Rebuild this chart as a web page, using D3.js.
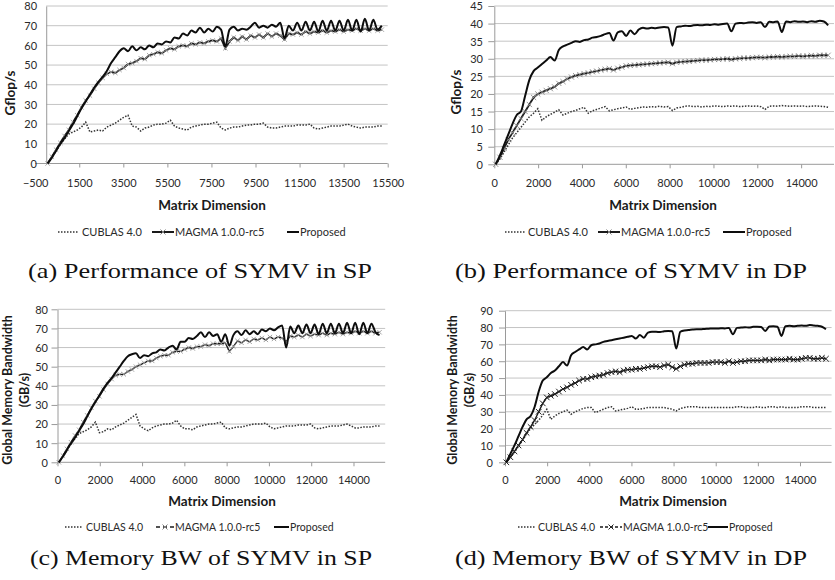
<!DOCTYPE html>
<html><head><meta charset="utf-8">
<script src="https://cdn.jsdelivr.net/npm/d3@7"></script>
<style>body{margin:0;background:#fff}</style>
</head><body>
<svg id="c" width="835" height="580" xmlns="http://www.w3.org/2000/svg"></svg>
<script>
// ---------- data ----------
const xDims = [
64,256,448,640,832,1024,1216,1408,1600,1792,
1984,2176,2368,2560,2752,2944,3136,3328,3520,3712,
3904,4096,4288,4480,4672,4864,5056,5248,5440,5632,
5824,6016,6208,6400,6592,6784,6976,7168,7360,7552,
7744,7936,8128,8320,8512,8704,8896,9088,9280,9472,
9664,9856,10048,10240,10432,10624,10816,11008,11200,11392,
11584,11776,11968,12160,12352,12544,12736,12928,13120,13312,
13504,13696,13888,14080,14272,14464,14656,14848,15040,15232];

const seriesNames = ["CUBLAS 4.0", "MAGMA 1.0.0-rc5", "Proposed"];

// (a) Performance SP (Gflop/s)
const spPerfCublas = [
0,3,6.5,9.5,12.5,15,16,17,18.5,21,
16,16.5,17,16.5,18.5,19.5,20.5,22,23.5,24.5,
19,18.5,16.5,18,18.5,19.5,20,20,20.5,22,
19,18,17.5,17,18.5,19,19.5,20,20,20.5,
21,18,17,18,18.5,18.5,19,19.5,19.5,20,
20,20.5,18.5,18,18,18.5,19,19,19,19.5,
19.5,19.5,20,18,17.5,18,18.5,19,19,19,
19.5,20,19,18.5,18,18.5,18.5,18.5,19,19];
const spPerfMagma = [
0,3.5,7,10.5,14,17,21,24.5,28.5,32,
34.5,38,41,43.5,45.5,46.5,46,47.5,48.5,50.5,
51,52,53.5,53,55,55.5,56.5,56,57.5,58.5,
58,59.5,60,59.5,61,60.5,61.5,61,62,62.5,
62,63.5,58.5,62,64,62.5,64.5,63,65,64,
65.5,64,66,64.5,66,65,63,66,65.5,66.5,
65.5,67,66,67,66.5,67.5,66.5,67.5,67,68,
67,68,67.5,68.5,67.5,68.5,67.5,68.5,67.5,68];
const spPerfProposed = [
0,3,6.5,10,13,16.5,20,24,28,31.5,
35,38.5,41.5,44,47,51,54,57,58.5,57,
59.5,57.5,59,58,60,59,61,60.5,62,61.5,
64,63.5,66,65,67.5,66.5,69,66.5,68.5,67,
69.5,68,59.5,68,69.5,67.5,68.5,68,69.5,71.5,
69,70,69,70.5,69.5,71.5,63.5,70,67.5,71.5,
67.5,72,67.5,72,67,72.5,67.5,72.5,67.5,72.5,
67.5,73,67.5,73,67,73.5,67.5,73,68,70];

// (b) Performance DP (Gflop/s)
const dpPerfCublas = [
0,1.5,3.5,5.5,7.5,9,10.5,12,13.5,14.5,
15.8,12.5,13.5,14.2,14.8,15.5,14,14.5,15,15.3,
15.8,16.2,14.5,15.2,15.6,16,16.4,15.2,15.5,15.8,
16,16.3,15.6,15.9,16.1,16.3,16.2,16.4,16.3,16.5,
16.3,16.4,15.3,16,16.2,16.5,16.6,16.4,16.5,16.3,
16.5,16.4,16.6,16.5,16.4,16.6,16.5,16.6,16.4,16.5,
16.6,16.5,16.6,16.4,15.6,16.5,16.6,16.5,16.7,16.6,
16.5,16.6,16.5,16.6,16.4,16.5,16.6,16.5,16.4,16.2];
const dpPerfMagma = [
0,2,4.5,7,9,11,13,15,17,19,
20,20.5,21,21.5,22,23,23.5,24.3,24.8,25.2,
25.5,25.8,26,26.3,26.5,26.8,27,27.2,26.8,27.3,
27.6,28,28.1,28.2,28.3,28.4,28.5,28.6,28.7,28.8,
28.9,29,28.6,29,29.1,29.2,29.3,29.4,29.5,29.6,
29.6,29.7,29.8,29.8,29.9,30,29.8,30,30.1,30.2,
30.2,30.3,30.4,30.4,30.3,30.5,30.5,30.6,30.5,30.6,
30.7,30.7,30.8,30.7,30.8,30.9,30.8,31,31,31];
const dpPerfProposed = [
0,2.5,5.5,8.5,11.5,14,15,19.5,24,26.5,
27.5,28.5,29.5,30.5,29.5,32.5,33.5,34,34.5,35,
34.8,35.3,35.5,36,36.2,36.5,37,37.3,35.2,37.5,
37.8,36.5,38,37,38.3,38.8,38.6,38.8,38.7,38.9,
39,38.9,33.7,39,39.2,39.4,39.3,39.5,39.6,39.5,
39.7,39.6,39.8,39.7,39.9,40,37.8,40,40.2,40.1,
40.3,40.4,40.2,40.4,39,40.5,40.4,40.6,37.6,40.6,
40.4,40.7,40.5,40.6,40.4,40.7,40.5,40.8,40.6,39.5];

// (c) Memory bandwidth SP (GB/s)
const spBwCublas = [
0,3,6.5,9.5,12.5,15,16,17,18.5,21,
15.5,16,17.5,17,18.5,19.5,20.5,22,23.5,25,
19,17.5,16.5,18,19,19.5,20,20,20.5,22,
19,17.5,17.5,17,18.5,19,19.5,20,20,20.5,
21,18,17.5,18,18.5,18.5,19,19.5,20,20,
20,20.5,18.5,17.5,18,18.5,19,19,19,19.5,
19.5,19.5,20,18,17.5,18,18.5,19,19,19,
19.5,20,19,18,18,18.5,18.5,18.5,19,19];
const spBwMagma = [
0,3.5,7,10.5,14,17,21,24.5,28.5,32,
34.5,38,41,43.5,45.5,46,46,47.5,48.5,50,
51,52,53,53,54.5,55.5,56,56,57.5,58,
58,59,60,59.5,60.5,60.5,61.5,61,62,62,
62,62.5,58,60.5,63.5,62.5,64,63,64.5,64,
65,64,65.5,64.5,65.5,65,63,66,65.5,66.5,
65.5,67,66,67,66.5,67.5,66.5,67.5,67,68,
67,68,67.5,68.5,67.5,68.5,67.5,68.5,67.5,68];
const spBwProposed = [
0,3,6.5,10,13,16.5,20,24,28,31.5,
35,38.5,41.5,44,47,50,53,55.5,56.5,57,
54.5,56,55.5,57,57.5,59,58.5,60,61,59,
63,63,65,64.5,66,68,65.5,68,66,67,
63,67,61,66.5,68.5,66.5,69,67,68.5,67,
69.5,68.5,70,69,70.5,71.5,60,71,67.5,71.5,
67.5,72,67.5,72,67,72.5,67.5,72.5,67.5,72.5,
67.5,73,67.5,73,67,73,67.5,72.5,68,66.5];

// (d) Memory bandwidth DP (GB/s)
const dpBwCublas = [
0,3,6,9.5,13,17,20,22.5,25,28,
31.5,25.5,27.5,29,30,31,28.5,30,31,32,
32.5,32.5,29.5,30.5,31.5,32.5,33,30.5,31,31.5,
32,33,31.5,31.5,32,32.5,32.5,32.5,32.5,32.5,
32,31.5,30.5,32,32.5,33,33,33,32.5,32.5,
32.5,32.5,32.5,32.5,32.5,32.5,32.5,33,33,32.5,
32.5,32.5,33,32.5,32.5,33,33,32.5,33,32.5,
32.5,32.5,32.5,33,33,33,32.5,32.5,32.5,32.5];
const dpBwMagma = [
0,3,6.5,10,13.5,17.5,21,25,30,35,
38.5,39.5,40.5,42,43.5,44.5,46,47,48.5,49.5,
49.5,50.5,51,51.5,52,53,53.5,54,53.5,54.5,
55,55,55.5,55.5,56,56.5,57,57,56.5,57.5,
58,56.5,55.5,57,58,58.5,58.5,59,59,59,
59,59.5,59.5,59.5,59,60,59,59.5,60,60,
60.5,60.5,60.5,60.5,61,60.5,61,61,61,61,
61.5,61,61,61.5,62,62,61.5,61.5,62,61.5];
const dpBwProposed = [
0,5,10,15.5,21,25.5,27.5,33,42,48.5,
50.5,53,54.5,57,59.5,57.5,63.5,65.5,67,68.5,
67,69.5,70,70.5,71.5,72,72.5,73,73.5,74,
74.5,75,73.5,75.5,74,77,77.5,77.5,77.3,77.8,
78,77.8,67.5,77.5,78.3,78.5,78.8,79,79,79.2,
79.3,79.5,79.4,79.6,79.5,79.8,76,79.8,80,80.2,
80,80.4,80.5,80.3,78,80.6,80.8,80.5,75,80.8,
81,80.8,81,81.2,81,81.5,81.2,81,80.5,79];

// tick values
const spPerfXTicks = [-500,1500,3500,5500,7500,9500,11500,13500,15500];
const dimXTicks = [0,2000,4000,6000,8000,10000,12000,14000];
const spPerfYTicks = [0,10,20,30,40,50,60,70,80];
const dpPerfYTicks = [0,5,10,15,20,25,30,35,40,45];
const spBwYTicks = [0,10,20,30,40,50,60,70,80];
const dpBwYTicks = [0,10,20,30,40,50,60,70,80,90];

const captions = ["(a) Performance of SYMV in SP", "(b) Performance of SYMV in DP",
                  "(c) Memory BW of SYMV in SP", "(d) Memory BW of SYMV in DP"];

// ---------- layout ----------
const FONT = "Lato, 'Open Sans', 'Liberation Sans', sans-serif";
const panels = [
 { series:[spPerfCublas, spPerfMagma, spPerfProposed],
   xDomain:[-500,15500], xRange:[35.2,387.7], yDomain:[0,80], yRange:[163.5,6],
   xTicks:spPerfXTicks, yTicks:spPerfYTicks, axisStart:-500, yTickLen:0, yLabelX:37,
   xLabelY:183, yTitle:["Gflop/s"], yTitleX:[10], yTitleY:93, yTitleSize:13.5,
   xTitle:[212,205], legY:232, legFont:11,
   leg:{c:[58,79,82], m:[152,174,175], p:[287,299,300]},
   mag:{mk:'#9a9a9a', ms:2.2, mw:0.9, lw:1.8},
   cap:{i:0, cx:200, y:278, len:344} },
 { series:[dpPerfCublas, dpPerfMagma, dpPerfProposed],
   xDomain:[0,15500], xRange:[494.3,834], yDomain:[0,45], yRange:[164.3,6],
   xTicks:dimXTicks, yTicks:dpPerfYTicks, axisStart:0, yTickLen:6, yLabelX:483,
   xLabelY:183, yTitle:["Gflop/s"], yTitleX:[456.5], yTitleY:92, yTitleSize:13.5,
   xTitle:[663,205], legY:232, legFont:11,
   leg:{c:[505,525,528], m:[598,620,621], p:[723,745,746]},
   mag:{mk:'#8a8a8a', ms:2.6, mw:0.9, lw:1.8},
   cap:{i:1, cx:631, y:278, len:352} },
 { series:[spBwCublas, spBwMagma, spBwProposed],
   xDomain:[0,15500], xRange:[57.5,385.2], yDomain:[0,80], yRange:[462.3,309.3],
   xTicks:dimXTicks, yTicks:spBwYTicks, axisStart:0, yTickLen:6, yLabelX:48,
   xLabelY:480, yTitle:["Global Memory Bandwidth","(GB/s)"], yTitleX:[8,25], yTitleY:390, yTitleSize:12.5,
   xTitle:[222,501], legY:527, legFont:10.5,
   leg:{c:[65,83,86], m:[156,174,175], p:[274,289,290], dashed:'4,3'},
   mag:{mk:'#9a9a9a', ms:2.2, mw:0.9, lw:1.4},
   cap:{i:2, cx:201, y:565, len:342} },
 { series:[dpBwCublas, dpBwMagma, dpBwProposed],
   xDomain:[0,15500], xRange:[505,831.6], yDomain:[0,90], yRange:[462.3,310.7],
   xTicks:dimXTicks, yTicks:dpBwYTicks, axisStart:0, yTickLen:6, yLabelX:493,
   xLabelY:480, yTitle:["Global Memory Bandwidth","(GB/s)"], yTitleX:[453,470], yTitleY:390, yTitleSize:12.5,
   xTitle:[673,501], legY:527, legFont:10.5,
   leg:{c:[518,536,538], m:[600,622,623], p:[708,728,729], dashed:'3,2'},
   mag:{mk:'#222', ms:2.8, mw:1, lw:1.4},
   cap:{i:3, cx:631, y:565, len:352} }
];

const svg = d3.select('#c');
svg.append('rect').attr('width',835).attr('height',580).attr('fill','#fff');

function cross(g, cx, cy, s, color, w){
  g.append('path').attr('d',`M${cx-s},${cy-s}L${cx+s},${cy+s}M${cx-s},${cy+s}L${cx+s},${cy-s}`)
   .attr('stroke',color).attr('stroke-width',w).attr('fill','none');
}

panels.forEach(p => {
  const g = svg.append('g');
  const x = d3.scaleLinear().domain(p.xDomain).range(p.xRange);
  const y = d3.scaleLinear().domain(p.yDomain).range(p.yRange);
  const x0 = x(0), xEnd = p.xRange[1], y0 = y(0);

  // gridlines
  g.append('g').selectAll('line').data(p.yTicks.filter(v => v > 0)).join('line')
    .attr('x1', x0).attr('x2', xEnd).attr('y1', d => y(d)).attr('y2', d => y(d))
    .attr('stroke', '#c4c4c4').attr('stroke-width', 1);

  // x axis
  const gx = g.append('g').attr('transform', `translate(0,${y0})`)
    .call(d3.axisBottom(x).tickValues(p.xTicks).tickSize(4).tickSizeOuter(0).tickFormat(d3.format('d')));
  gx.select('.domain').remove();
  gx.selectAll('.tick line').attr('stroke', '#9a9a9a').attr('opacity', d => d < 0 ? 0 : 1);
  gx.selectAll('.tick text').attr('y', p.xLabelY - y0).attr('dy', '0.35em')
    .attr('font-family', FONT).attr('font-size', 11).attr('fill', '#2a2a2a');
  g.append('line').attr('x1', x(p.axisStart)).attr('x2', xEnd).attr('y1', y0).attr('y2', y0)
    .attr('stroke', '#9a9a9a').attr('stroke-width', 1);

  // y axis
  const gy = g.append('g').attr('transform', `translate(${x0},0)`)
    .call(d3.axisLeft(y).tickValues(p.yTicks).tickSize(p.yTickLen).tickSizeOuter(0).tickFormat(d3.format('d')));
  gy.select('.domain').attr('stroke', '#9a9a9a');
  gy.selectAll('.tick line').attr('stroke', '#9a9a9a');
  gy.selectAll('.tick text').attr('x', p.yLabelX - x0).attr('dy', '0.35em')
    .attr('font-family', FONT).attr('font-size', 11).attr('fill', '#2a2a2a');

  // series
  const line = d3.line().x((d, i) => x(xDims[i])).y(d => y(d));
  const smooth = d3.line().x((d, i) => x(xDims[i])).y(d => y(d)).curve(d3.curveMonotoneX);
  const [cub, mag, pro] = p.series;
  g.append('path').datum(cub).attr('d', line).attr('fill', 'none')
    .attr('stroke', '#333').attr('stroke-width', 1.5).attr('stroke-dasharray', '1.5,1.5');
  g.append('path').datum(mag).attr('d', line).attr('fill', 'none')
    .attr('stroke', '#1a1a1a').attr('stroke-width', p.mag.lw);
  const mg = g.append('g');
  mag.forEach((v, i) => cross(mg, x(xDims[i]), y(v), p.mag.ms, p.mag.mk, p.mag.mw));
  g.append('path').datum(pro).attr('d', smooth).attr('fill', 'none')
    .attr('stroke', '#0d0d0d').attr('stroke-width', 2).attr('stroke-linejoin', 'round');

  // axis titles
  g.append('text').attr('x', p.xTitle[0]).attr('y', p.xTitle[1]).attr('dy', '0.35em')
    .attr('text-anchor', 'middle').attr('font-family', FONT).attr('font-weight', 'bold')
    .attr('font-size', 13.5).attr('fill', '#1a1a1a').text('Matrix Dimension');
  p.yTitle.forEach((t, i) => {
    g.append('text').attr('transform', `translate(${p.yTitleX[i]},${p.yTitleY}) rotate(-90)`)
      .attr('dy', '0.35em').attr('text-anchor', 'middle').attr('font-family', FONT)
      .attr('font-weight', 'bold').attr('font-size', p.yTitleSize).attr('fill', '#1a1a1a').text(t);
  });

  // legend
  const L = p.leg, ly = p.legY;
  g.append('line').attr('x1', L.c[0]).attr('x2', L.c[1]).attr('y1', ly).attr('y2', ly)
    .attr('stroke', '#333').attr('stroke-width', 1.5).attr('stroke-dasharray', '1.5,1.5');
  g.append('line').attr('x1', L.m[0]).attr('x2', L.m[1]).attr('y1', ly).attr('y2', ly)
    .attr('stroke', '#1a1a1a').attr('stroke-width', L.dashed ? 1.3 : 2)
    .attr('stroke-dasharray', L.dashed || null);
  cross(g, (L.m[0] + L.m[1]) / 2, ly, 2.5, p.mag.mk === '#222' ? '#222' : '#808080', 1);
  g.append('line').attr('x1', L.p[0]).attr('x2', L.p[1]).attr('y1', ly).attr('y2', ly)
    .attr('stroke', '#0d0d0d').attr('stroke-width', 2);
  [[L.c[2], seriesNames[0]], [L.m[2], seriesNames[1]], [L.p[2], seriesNames[2]]].forEach(([tx, t]) => {
    g.append('text').attr('x', tx).attr('y', ly).attr('dy', '0.35em').attr('font-family', FONT)
      .attr('font-size', p.legFont).attr('fill', '#2a2a2a').text(t);
  });

  // caption
  g.append('text').attr('x', p.cap.cx).attr('y', p.cap.y).attr('text-anchor', 'middle')
    .attr('font-family', "'Liberation Serif', 'DejaVu Serif', serif").attr('font-size', 22)
    .attr('fill', '#111').attr('textLength', p.cap.len).attr('lengthAdjust', 'spacingAndGlyphs')
    .text(captions[p.cap.i]);
});
</script>
</body></html>
